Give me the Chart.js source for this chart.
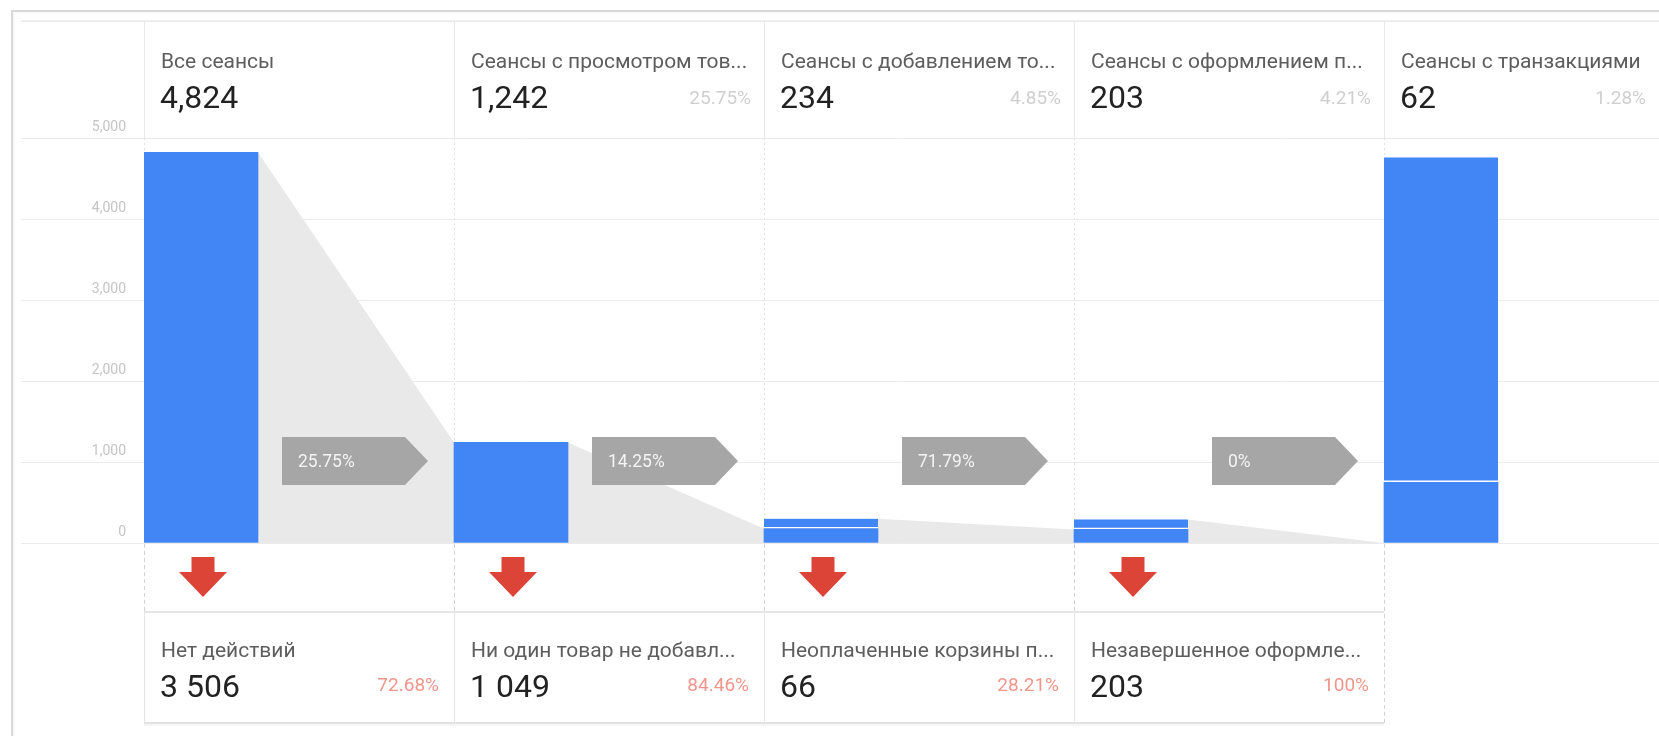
<!DOCTYPE html>
<html lang="ru">
<head>
<meta charset="utf-8">
<title>Анализ поведения при покупке</title>
<script src="https://cdn.jsdelivr.net/npm/chart.js@4.4.1/dist/chart.umd.min.js"></script>
<style>
  html, body { margin: 0; padding: 0; background: #ffffff; overflow: hidden; }
  #frame {
    position: absolute; left: 11px; top: 10px; right: -20px; bottom: -20px;
    border-left: 2px solid #d9d9d9; border-top: 2px solid #d9d9d9;
    box-shadow: inset 1px 1px 1px rgba(0,0,0,0.04);
  }
  #wrap { position: absolute; left: 0; top: 0; width: 1659px; height: 736px; }
</style>
</head>
<body>
<div id="frame"></div>
<div id="wrap"><canvas id="funnel"></canvas></div>
<script>
// ---- Funnel steps ----
const stepNames = [
  'Все сеансы',
  'Сеансы с просмотром тов...',
  'Сеансы с добавлением то...',
  'Сеансы с оформлением п...',
  'Сеансы с транзакциями'
];
const stepSessions = [4824, 1242, 234, 203, 62];
const stepShare = [null, 25.75, 4.85, 4.21, 1.28];
// conversion from one step to the next
const stepConversion = [25.75, 14.25, 71.79, 0];

// ---- Bar segments ----
// lower part: sessions carried over from the previous step
const barCarried = [4824, 1242, 177, 168, 750];
// upper part: sessions that entered at this step
const barEntered = [null, null, 57, 35, 4010];

// ---- Drop-offs ----
const exitNames = [
  'Нет действий',
  'Ни один товар не добавл...',
  'Неоплаченные корзины п...',
  'Незавершенное оформле...'
];
const exitSessions = [3506, 1049, 66, 203];
const exitShare = [72.68, 84.46, 28.21, 100];

// ---- Axis ----
const yTicks = [0, 1000, 2000, 3000, 4000, 5000];

// ---- Layout ----
const AXIS_W = 144;      // width reserved for the value axis
const COL_W = 310;       // width of one funnel column
const BAR_W = 114;       // bar thickness
const PAD_TOP = 138;     // header block above the plot
const PAD_BOTTOM = 193;  // drop-off block below the plot
const BLUE = '#4285f4';
const FONT = 'Roboto, "Noto Sans", Arial, sans-serif';

const canvasW = 1659;
const xMax = (canvasW - AXIS_W) / COL_W;
const barCenter = BAR_W / 2 / COL_W;

const fmtComma = v => v.toLocaleString('en-US');
const fmtSpace = v => v.toLocaleString('en-US').replace(/,/g, ' ');
const fmtPct = v => `${v}%`;

const funnelDecor = {
  id: 'funnelDecor',
  beforeDatasetsDraw(chart) {
    const { ctx, chartArea, scales: { x, y } } = chart;
    const lower = chart.getDatasetMeta(0).data;
    const upper = chart.getDatasetMeta(1).data;
    const topOf = i => (barEntered[i] != null ? upper[i].y : lower[i].y);
    const zero = y.getPixelForValue(0);
    ctx.save();

    // grey flow wedges between neighbouring bars
    ctx.fillStyle = '#e9e9e9';
    for (let i = 0; i < stepConversion.length; i++) {
      const b = lower[i], n = lower[i + 1];
      const x0 = b.x + b.width / 2;
      const x1 = n.x - n.width / 2;
      const flow = stepSessions[i] * stepConversion[i] / 100;
      ctx.beginPath();
      ctx.moveTo(x0, topOf(i));
      ctx.lineTo(x1, y.getPixelForValue(flow));
      ctx.lineTo(x1, zero);
      ctx.lineTo(x0, zero);
      ctx.closePath();
      ctx.fill();
    }

    // conversion badges
    const cy = chartArea.bottom - 82;
    const h = 48;
    for (let i = 0; i < stepConversion.length; i++) {
      const colLeft = x.getPixelForValue(i);
      const l = colLeft + 138, r = colLeft + 261, tip = colLeft + 284;
      ctx.fillStyle = '#a6a6a6';
      ctx.beginPath();
      ctx.moveTo(l, cy - h / 2);
      ctx.lineTo(r, cy - h / 2);
      ctx.lineTo(tip, cy);
      ctx.lineTo(r, cy + h / 2);
      ctx.lineTo(l, cy + h / 2);
      ctx.closePath();
      ctx.fill();
      ctx.fillStyle = '#f4f4f4';
      ctx.font = `17.5px ${FONT}`;
      ctx.textAlign = 'left';
      ctx.textBaseline = 'alphabetic';
      ctx.fillText(fmtPct(stepConversion[i]), l + 16, cy + 6);
    }
    ctx.restore();
  },
  afterDraw(chart) {
    const { ctx, chartArea, scales: { x, y }, width } = chart;
    const lower = chart.getDatasetMeta(0).data;
    const top = chartArea.top;
    const zero = y.getPixelForValue(0);
    const colL = i => x.getPixelForValue(i);
    const colR = i => Math.min(x.getPixelForValue(i + 1), width);
    ctx.save();

    // header frame
    ctx.fillStyle = '#e8e8e8';
    ctx.fillRect(21, 20.5, width - 21, 1.5);
    for (let i = 0; i < stepNames.length; i++) {
      ctx.fillRect(Math.round(colL(i)), 21, 1, top - 21);
    }

    // header texts
    ctx.textBaseline = 'alphabetic';
    stepNames.forEach((name, i) => {
      const l = colL(i), r = colR(i);
      ctx.textAlign = 'left';
      ctx.fillStyle = '#5d5d5d';
      ctx.font = `21px ${FONT}`;
      ctx.fillText(name, l + 17, top - 70);
      ctx.fillStyle = '#222222';
      ctx.font = `32px ${FONT}`;
      ctx.fillText(fmtComma(stepSessions[i]), l + 16, top - 30);
      if (stepShare[i] != null) {
        ctx.textAlign = 'right';
        ctx.fillStyle = '#cfcfcf';
        ctx.font = `19px ${FONT}`;
        ctx.fillText(fmtPct(stepShare[i]), r - 13, top - 34);
      }
    });

    // dashed column lines below the plot
    ctx.strokeStyle = '#d3d3d3';
    ctx.lineWidth = 1;
    ctx.setLineDash([4, 3]);
    for (let i = 0; i <= exitNames.length; i++) {
      const xx = Math.round(colL(i)) + 0.5;
      const yEnd = i === exitNames.length ? zero + 180 : zero + 69;
      ctx.beginPath();
      ctx.moveTo(xx, zero + 1);
      ctx.lineTo(xx, yEnd);
      ctx.stroke();
    }
    ctx.setLineDash([]);

    // red drop-off arrows
    ctx.fillStyle = '#db4437';
    exitNames.forEach((_, i) => {
      const cx = lower[i].x + 2;
      const t = zero + 14;
      ctx.beginPath();
      ctx.moveTo(cx - 11.5, t);
      ctx.lineTo(cx + 11.5, t);
      ctx.lineTo(cx + 11.5, t + 15);
      ctx.lineTo(cx + 24, t + 15);
      ctx.lineTo(cx, t + 40);
      ctx.lineTo(cx - 24, t + 15);
      ctx.lineTo(cx - 11.5, t + 15);
      ctx.closePath();
      ctx.fill();
    });

    // drop-off cards
    const cTop = zero + 69, cBot = zero + 180;
    const cLeft = colL(0), cRight = colL(exitNames.length);
    ctx.fillStyle = '#e6e6e6';
    ctx.fillRect(cLeft, cTop - 1, cRight - cLeft, 2);
    ctx.fillStyle = '#e2e2e2';
    ctx.fillRect(cLeft, cBot - 1, cRight - cLeft, 2);
    ctx.fillStyle = 'rgba(0,0,0,0.035)';
    ctx.fillRect(cLeft, cBot + 1, cRight - cLeft, 2);
    ctx.fillStyle = '#e6e6e6';
    for (let i = 0; i < exitNames.length; i++) {
      ctx.fillRect(Math.round(colL(i)), cTop, 1, cBot - cTop);
    }

    exitNames.forEach((name, i) => {
      const l = colL(i), r = colR(i);
      ctx.textAlign = 'left';
      ctx.fillStyle = '#5d5d5d';
      ctx.font = `21px ${FONT}`;
      ctx.fillText(name, l + 17, zero + 114);
      ctx.fillStyle = '#222222';
      ctx.font = `32px ${FONT}`;
      ctx.fillText(fmtSpace(exitSessions[i]), l + 16, zero + 154);
      ctx.textAlign = 'right';
      ctx.fillStyle = '#f2958b';
      ctx.font = `19px ${FONT}`;
      ctx.fillText(fmtPct(exitShare[i]), r - 15, zero + 148);
    });
    ctx.restore();
  }
};

new Chart(document.getElementById('funnel'), {
  type: 'bar',
  data: {
    datasets: [
      {
        data: barCarried.map((v, i) => ({ x: i + barCenter, y: v })),
        backgroundColor: BLUE,
        borderWidth: 0,
        barThickness: BAR_W,
        stack: 'funnel'
      },
      {
        data: barEntered.map((v, i) => ({ x: i + barCenter, y: v })),
        backgroundColor: BLUE,
        borderColor: '#ffffff',
        borderWidth: { top: 0, left: 0, right: 0, bottom: 2 },
        borderSkipped: false,
        minBarLength: 10,
        barThickness: BAR_W,
        stack: 'funnel'
      }
    ]
  },
  options: {
    responsive: true,
    maintainAspectRatio: false,
    animation: false,
    events: [],
    layout: { padding: { top: PAD_TOP, bottom: PAD_BOTTOM, left: 0, right: 0 } },
    plugins: { legend: { display: false }, tooltip: { enabled: false } },
    scales: {
      x: {
        type: 'linear',
        stacked: true,
        min: 0,
        max: xMax,
        offset: false,
        afterBuildTicks: s => { s.ticks = stepNames.map((_, i) => ({ value: i })); },
        ticks: { display: false },
        grid: { color: '#e0e0e0', drawTicks: false, offset: false },
        border: { display: false, dash: [2, 3] }
      },
      y: {
        stacked: true,
        min: yTicks[0],
        max: yTicks[yTicks.length - 1],
        afterBuildTicks: s => { s.ticks = yTicks.map(v => ({ value: v })); },
        afterFit: s => { s.width = AXIS_W; },
        grid: { color: '#ebebeb', tickColor: '#ebebeb', drawTicks: true, tickLength: 123 },
        border: { display: false },
        ticks: {
          padding: -105,
          labelOffset: -11,
          color: '#c4c4c4',
          font: { family: FONT, size: 14 },
          callback: v => fmtComma(v)
        }
      }
    }
  },
  plugins: [funnelDecor]
});
</script>
</body>
</html>
